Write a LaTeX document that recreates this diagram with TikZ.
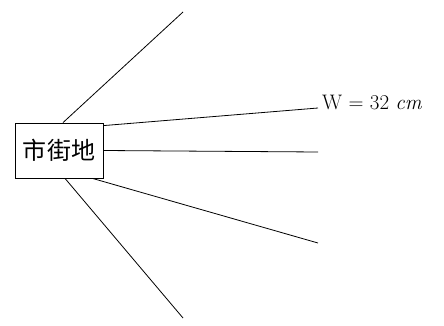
\documentclass[tikz,border=0pt]{standalone}
\usepackage{fontspec}
\newfontfamily\cjk{Noto Sans CJK SC}
\begin{document}
\begin{tikzpicture}[x=1pt,y=-1pt,every node/.style={inner sep=0pt},
  area/.style={draw,thick,minimum width=88pt,minimum height=55pt,font=\cjk\fontsize{24}{26}\selectfont},
  road/.style={thick}]
  \useasboundingbox (0,0) rectangle (444,326);
  \node[area] (city) at (59,150.5) {市街地};
  \coordinate (e1) at (183,12);
  \coordinate (e2) at (318,108);
  \coordinate (e3) at (318,152);
  \coordinate (e4) at (318,243);
  \coordinate (e5) at (183,318);
  \draw[road] ([xshift=4pt]city.north) -- (e1);
  \draw[road] ([yshift=-3pt]city.north east) -- (e2);
  \draw[road] (city.east) -- (e3);
  \draw[road] ([xshift=-11pt]city.south east) -- (e4);
  \draw[road] ([xshift=6pt]city.south) -- (e5);
  \node[font=\fontsize{21}{24}\selectfont,anchor=west] (w) at (322,102) {W $=$ 32 \textit{cm}};
\end{tikzpicture}
\end{document}
